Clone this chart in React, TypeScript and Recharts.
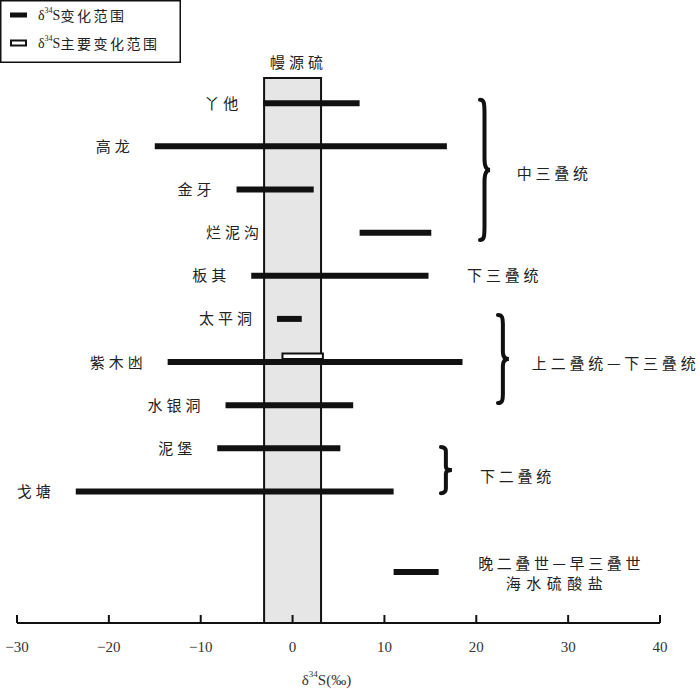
import React from 'react';
import { ComposedChart, XAxis, YAxis, Scatter, ReferenceArea, ReferenceDot, Legend } from 'recharts';

// ---- data ----
const sites = ['丫他', '高龙', '金牙', '烂泥沟', '板其', '太平洞', '紫木凼', '水银洞', '泥堡', '戈塘'];
const siteRows = [1, 2, 3, 4, 5, 6, 7, 8, 9, 10];
const rangeLow = [-3.2, -15.0, -6.1, 7.3, -4.5, -1.7, -13.6, -7.3, -8.2, -23.6];
const rangeHigh = [7.3, 16.8, 2.3, 15.1, 14.8, 1.0, 18.5, 6.6, 5.2, 11.0];

const mainRangeSite = '紫木凼';
const mainRangeLow = -1.1;
const mainRangeHigh = 3.3;

const mantleLabel = '幔源硫';
const mantleLow = -3.1;
const mantleHigh = 3.1;

const seawaterLines = ['晚二叠世—早三叠世', '海水硫酸盐'];
const seawaterRow = 11.87;
const seawaterLow = 11.0;
const seawaterHigh = 15.9;

const groupNames = ['中三叠统', '下三叠统', '上二叠统—下三叠统', '下二叠统'];
const groupX = [24.4, 19.0, 26.05, 20.4];
const groupRow = [2.61, 4.98, 7.0, 9.62];

const braceRowFrom = [0.92, 5.91, 8.97];
const braceRowTo = [4.17, 7.95, 10.04];
const braceXFrom = [20.4, 22.36, 16.15];
const braceXTo = [21.5, 23.55, 17.35];

const xTicks = [-30, -20, -10, 0, 10, 20, 30, 40];
const xDomain = [-30, 40];
const yDomain = [0.415, 13.05];

// ---- styles ----
const CJK = '"Noto Sans CJK SC", "Noto Sans", sans-serif';
const SERIF = '"Liberation Serif", "DejaVu Serif", serif';
const INK = '#111';
const TEXT = '#222';

const rows = sites.map((s, i) => ({
  site: s,
  row: siteRows[i],
  lo: rangeLow[i],
  hi: rangeHigh[i],
  pts: [
    { x: rangeLow[i], y: siteRows[i] },
    { x: rangeHigh[i], y: siteRows[i] },
  ],
}));
const mainRow = rows.find((r) => r.site === mainRangeSite)!.row;

const NoShape = () => <g />;

const AxisTick = (props: any) => {
  const { x, y, payload } = props;
  const v = payload.value as number;
  const s = v < 0 ? '\u2212' + Math.abs(v) : String(v);
  return (
    <g>
      <line x1={x} x2={x} y1={y} y2={y - 8} stroke={INK} strokeWidth={2} />
      <text x={x} y={y + 24} textAnchor="middle" dominantBaseline="central" fontFamily={SERIF} fontSize={15} fill="#333">
        {s}
      </text>
    </g>
  );
};

const Brace = (props: any) => {
  const { x, y, width: w, height: h } = props;
  const m = x + w * 0.45;
  const d = [
    `M ${x} ${y}`,
    `C ${x + w * 0.4} ${y} ${m} ${y + 3} ${m} ${y + h * 0.1}`,
    `L ${m} ${y + h * 0.42}`,
    `C ${m} ${y + h * 0.48} ${x + w * 0.7} ${y + h * 0.5} ${x + w} ${y + h * 0.5}`,
    `C ${x + w * 0.7} ${y + h * 0.5} ${m} ${y + h * 0.52} ${m} ${y + h * 0.58}`,
    `L ${m} ${y + h * 0.9}`,
    `C ${m} ${y + h - 3} ${x + w * 0.4} ${y + h} ${x} ${y + h}`,
  ].join(' ');
  return <path d={d} fill="none" stroke={INK} strokeWidth={4} strokeLinecap="round" />;
};

const LegendBox = () => (
  <svg width={182} height={64} style={{ display: 'block' }}>
    <rect x={0.75} y={0.75} width={179.5} height={61.5} fill="#fff" stroke={INK} strokeWidth={1.5} />
    <rect x={10} y={12.5} width={17} height={5} fill={INK} />
    <text x={38} y={15} dominantBaseline="central" fontSize={14} fill={TEXT}>
      <tspan fontFamily={SERIF}>δ</tspan>
      <tspan fontFamily={SERIF} fontSize={8} dy={-5}>34</tspan>
      <tspan fontFamily={SERIF} dy={5}>S</tspan>
      <tspan fontFamily={CJK} letterSpacing={2.5}>变化范围</tspan>
    </text>
    <rect x={11} y={40.5} width={15} height={5} fill="#fff" stroke={INK} strokeWidth={2} />
    <text x={38} y={43} dominantBaseline="central" fontSize={14} fill={TEXT}>
      <tspan fontFamily={SERIF}>δ</tspan>
      <tspan fontFamily={SERIF} fontSize={8} dy={-5}>34</tspan>
      <tspan fontFamily={SERIF} dy={5}>S</tspan>
      <tspan fontFamily={CJK} letterSpacing={2.5}>主要变化范围</tspan>
    </text>
  </svg>
);

const XTitle = (props: any) => {
  const vb = props.viewBox || {};
  const cx = vb.x + vb.width / 2 - 12;
  const y = vb.y + 57;
  return (
    <text x={cx} y={y} textAnchor="middle" dominantBaseline="central" fontFamily={SERIF} fontSize={15} fill="#333">
      δ<tspan fontSize={9} dy={-6}>34</tspan>
      <tspan dy={6}>S(‰)</tspan>
    </text>
  );
};

const cjkText = (txt: string, x: number, y: number, anchor: 'start' | 'middle' | 'end', ls = 4) => {
  const dx = anchor === 'end' ? ls : anchor === 'middle' ? ls / 2 : 0;
  return (
    <text x={x + dx} y={y} textAnchor={anchor} dominantBaseline="central" fontFamily={CJK} fontSize={15} letterSpacing={ls} fill={TEXT}>
      {txt}
    </text>
  );
};

export default function App() {
  return (
    <div style={{ position: 'relative', width: 700, height: 689, background: '#fff' }}>
      <style>{`body{margin:0;background:#fff}`}</style>
      <ComposedChart width={700} height={689} margin={{ top: 78, right: 40, bottom: 0, left: 17 }}>
        <XAxis
          type="number"
          dataKey="x"
          domain={xDomain}
          ticks={xTicks}
          allowDataOverflow
          height={66}
          axisLine={{ stroke: INK, strokeWidth: 2 }}
          tickLine={false}
          tickSize={0}
          tickMargin={0}
          tick={<AxisTick />}
          label={<XTitle />}
        />
        <YAxis type="number" dataKey="y" domain={yDomain} reversed allowDataOverflow hide />

        <ReferenceArea
          x1={mantleLow}
          x2={mantleHigh}
          y1={yDomain[0]}
          y2={yDomain[1]}
          fill="#e6e6e6"
          fillOpacity={1}
          stroke={INK}
          strokeWidth={2}
          ifOverflow="visible"
        />
        <ReferenceDot
          x={0}
          y={yDomain[0]}
          r={0}
          ifOverflow="visible"
          shape={(p: any) => cjkText(mantleLabel, p.cx + 4, p.cy - 17, 'middle', 4)}
        />

        {rows.map((r) => (
          <Scatter
            key={r.site}
            data={r.pts}
            dataKey="y"
            line={{ stroke: INK, strokeWidth: 6 }}
            lineType="joint"
            shape={<NoShape />}
            legendType="none"
            isAnimationActive={false}
          />
        ))}
        <Scatter
          data={[
            { x: seawaterLow, y: seawaterRow },
            { x: seawaterHigh, y: seawaterRow },
          ]}
          dataKey="y"
          line={{ stroke: INK, strokeWidth: 6 }}
          lineType="joint"
          shape={<NoShape />}
          legendType="none"
          isAnimationActive={false}
        />

        <ReferenceArea
          x1={mainRangeLow}
          x2={mainRangeHigh}
          y1={mainRow - 0.2}
          y2={mainRow - 0.07}
          fill="#fff"
          fillOpacity={1}
          stroke={INK}
          strokeWidth={2}
          ifOverflow="visible"
        />

        {rows.map((r) => {
          const rightOfBox = r.lo > mantleHigh;
          const ax = rightOfBox ? mantleLow : r.lo;
          const gap = rightOfBox ? 5 : 25;
          return (
            <ReferenceDot
              key={'lbl' + r.site}
              x={ax}
              y={r.row}
              r={0}
              ifOverflow="visible"
              shape={(p: any) => cjkText(r.site, p.cx - gap, p.cy - 1, 'end', 4)}
            />
          );
        })}

        {braceRowFrom.map((f, i) => (
          <ReferenceArea
            key={'brace' + i}
            x1={braceXFrom[i]}
            x2={braceXTo[i]}
            y1={f}
            y2={braceRowTo[i]}
            ifOverflow="visible"
            shape={<Brace />}
          />
        ))}

        {groupNames.map((g, i) => (
          <ReferenceDot
            key={'grp' + i}
            x={groupX[i]}
            y={groupRow[i]}
            r={0}
            ifOverflow="visible"
            shape={(p: any) => cjkText(g, p.cx, p.cy, 'start', 3.8)}
          />
        ))}

        <ReferenceDot
          x={(groupX[3] + 36.8) / 2}
          y={seawaterRow - 0.21}
          r={0}
          ifOverflow="visible"
          shape={(p: any) => (
            <g>
              {cjkText(seawaterLines[0], p.cx + 4, p.cy - 1, 'middle', 3.6)}
              {cjkText(seawaterLines[1], p.cx - 1, p.cy + 19, 'middle', 5.5)}
            </g>
          )}
        />

        <Legend
          layout="vertical"
          align="center"
          verticalAlign="middle"
          content={() => <LegendBox />}
          wrapperStyle={{ position: 'absolute', left: 0, top: 0, width: 182, height: 64 }}
        />
      </ComposedChart>
    </div>
  );
}
